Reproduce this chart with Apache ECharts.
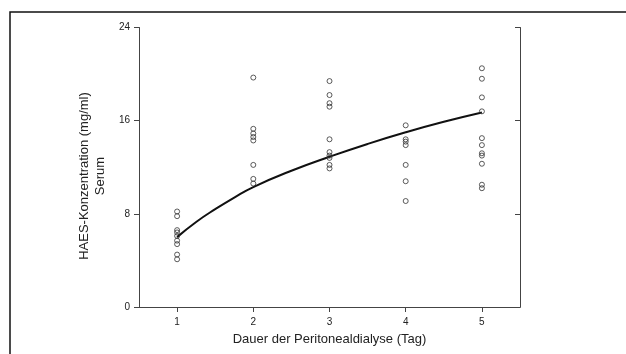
<!DOCTYPE html>
<html>
<head>
<meta charset="utf-8">
<script src="https://cdn.jsdelivr.net/npm/echarts@6/dist/echarts.min.js"></script>
<style>
  html, body { margin: 0; padding: 0; background: #fff; }
  #chart { width: 626px; height: 354px; }
</style>
</head>
<body>
<div id="chart"></div>
<script>
// measured values per day
const days = [1, 2, 3, 4, 5];
const day1 = [8.2, 7.8, 6.6, 6.4, 6.1, 5.7, 5.4, 4.5, 4.1];
const day2 = [19.7, 15.3, 14.9, 14.6, 14.3, 12.2, 11.0, 10.6];
const day3 = [19.4, 18.2, 17.5, 17.2, 14.4, 13.3, 13.0, 12.8, 12.2, 11.9];
const day4 = [15.6, 14.4, 14.2, 13.9, 12.2, 10.8, 9.1];
const day5 = [20.5, 19.6, 18.0, 16.8, 14.5, 13.9, 13.2, 13.0, 12.3, 10.5, 10.2];

// fitted curve
const fitX = [1, 1.25, 1.5, 1.75, 2, 2.5, 3, 3.5, 4, 4.5, 5];
const fitY = [6.0, 7.3, 8.4, 9.4, 10.3, 11.7, 12.9, 14.0, 15.0, 15.9, 16.7];

const yTicks = [0, 8, 16, 24];

const points = [];
[day1, day2, day3, day4, day5].forEach((vals, i) => {
  vals.forEach(v => points.push([days[i], v]));
});

const font = "Liberation Sans, Arial, sans-serif";
const axisColor = "#444";

const chart = echarts.init(document.getElementById("chart"));
chart.setOption({
  animation: false,
  grid: { left: 139, right: 106, top: 27.5, bottom: 47 },
  xAxis: [
    {
      type: "value",
      position: "bottom",
      min: 0.5,
      max: 5.5,
      splitLine: { show: false },
      axisLine: { lineStyle: { color: axisColor, width: 1 } },
      axisTick: { customValues: days, length: 5, lineStyle: { color: axisColor } },
      axisLabel: { customValues: days, color: "#222", fontFamily: font, fontSize: 10, margin: 10 },
      name: "Dauer der Peritonealdialyse (Tag)",
      nameLocation: "middle",
      nameGap: 26,
      nameTextStyle: { color: "#222", fontFamily: font, fontSize: 13 },
    },
    {
      type: "value",
      position: "top",
      min: 0.5,
      max: 5.5,
      splitLine: { show: false },
      axisLine: { lineStyle: { color: axisColor, width: 1 } },
      axisTick: { customValues: days, inside: true, length: 5, lineStyle: { color: axisColor } },
      axisLabel: { show: false },
    },
  ],
  yAxis: [
    {
      type: "value",
      position: "left",
      min: 0,
      max: 24,
      interval: 8,
      splitLine: { show: false },
      axisLine: { show: true, lineStyle: { color: axisColor, width: 1 } },
      axisTick: { show: true, length: 5, lineStyle: { color: axisColor } },
      axisLabel: { color: "#222", fontFamily: font, fontSize: 10, margin: 9 },
    },
    {
      type: "value",
      position: "right",
      min: 0,
      max: 24,
      interval: 8,
      splitLine: { show: false },
      axisLine: { show: true, lineStyle: { color: axisColor, width: 1 } },
      axisTick: { show: true, inside: true, length: 5, lineStyle: { color: axisColor } },
      axisLabel: { show: false },
    },
  ],
  graphic: [
    {
      type: "rect",
      shape: { x: 10, y: 12, width: 700, height: 400 },
      style: { fill: "none", stroke: "#111", lineWidth: 1.5 },
      silent: true,
    },
    {
      type: "text",
      x: 92,
      y: 176,
      rotation: Math.PI / 2,
      style: {
        text: "HAES-Konzentration (mg/ml)\nSerum",
        fill: "#222",
        font: "13px " + font,
        align: "center",
        verticalAlign: "middle",
        lineHeight: 16,
      },
    },
  ],
  series: [
    {
      type: "scatter",
      data: points,
      symbol: "circle",
      symbolSize: 5,
      itemStyle: { color: "rgba(0,0,0,0)", borderColor: "#333", borderWidth: 1 },
      z: 3,
    },
    {
      type: "line",
      data: fitX.map((x, i) => [x, fitY[i]]),
      smooth: true,
      showSymbol: false,
      lineStyle: { color: "#111", width: 2 },
      z: 2,
    },
  ],
});
</script>
</body>
</html>
